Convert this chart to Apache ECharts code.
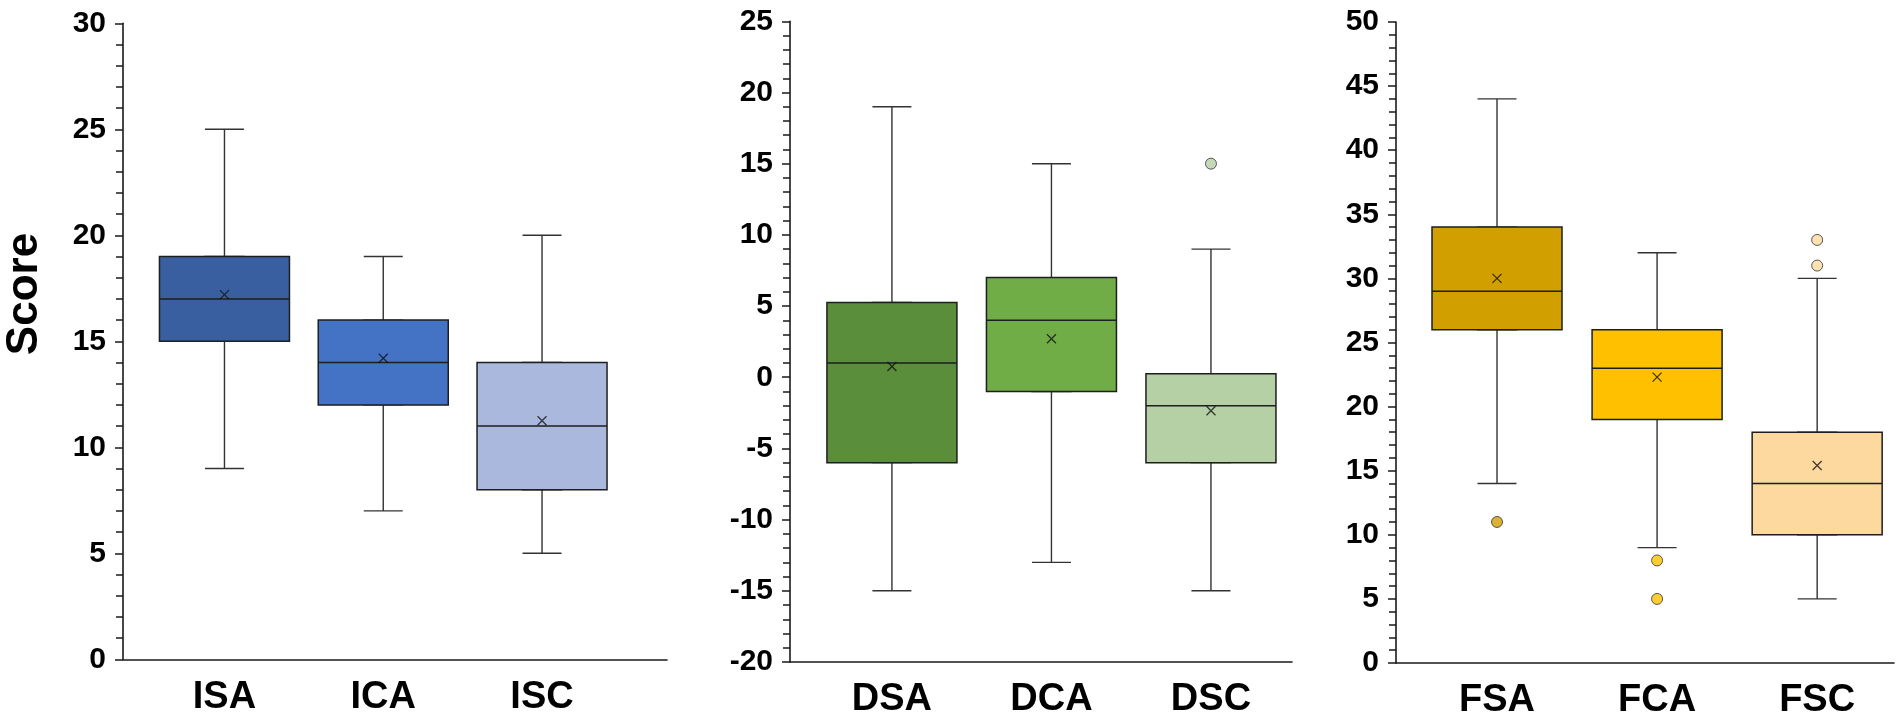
<!DOCTYPE html>
<html lang="en">
<head>
    <meta charset="UTF-8">
    <title>Score boxplots</title>
    <script src="https://cdn.jsdelivr.net/npm/echarts@6/dist/echarts.min.js"></script>
    <style>
        html,body{ margin:0; padding:0; background:#fff; }
        #main{ width:1902px; height:721px; }
    </style>
</head>
<body>
<div id="main"></div>
<script>
    // group names per panel
    var namesI = ['ISA', 'ICA', 'ISC'];
    var namesD = ['DSA', 'DCA', 'DSC'];
    var namesF = ['FSA', 'FCA', 'FSC'];

    // [min, Q1, median, Q3, max]
    var statsI = [[9, 15, 17, 19, 25], [7, 12, 14, 16, 19], [5, 8, 11, 14, 20]];
    var statsD = [[-15, -6, 1, 5.25, 19], [-13, -1, 4, 7, 15], [-15, -6, -2, 0.25, 9]];
    var statsF = [[14, 26, 29, 34, 44], [9, 19, 23, 26, 32], [5, 10, 14, 18, 30]];

    // means (the x marks)
    var meansI = [17.2, 14.2, 11.25];
    var meansD = [0.75, 2.7, -2.35];
    var meansF = [30, 22.3, 15.4];

    // outliers: [group index, value]
    var outliersI = [];
    var outliersD = [[2, 15]];
    var outliersF = [[0, 11], [1, 8], [1, 5], [2, 31], [2, 33]];

    // y axis ranges
    var yRangeI = [0, 30];
    var yRangeD = [-20, 25];
    var yRangeF = [0, 50];

    var colorsI = ['#3A5FA1', '#4472C4', '#A9B8DC'];
    var colorsD = ['#5B8E3B', '#70AD47', '#B5D0A5'];
    var colorsF = ['#D29F00', '#FFC000', '#FDD9A0'];

    var FONT = 'Liberation Sans';

    var panels = [
        {names: namesI, stats: statsI, means: meansI, outliers: outliersI, yRange: yRangeI, colors: colorsI,
            grid: {left: 123, top: 23.3, width: 544, height: 636}, xRange: [-0.639, 2.787]},
        {names: namesD, stats: statsD, means: meansD, outliers: outliersD, yRange: yRangeD, colors: colorsD,
            grid: {left: 790, top: 21.3, width: 502, height: 640.7}, xRange: [-0.639, 2.508]},
        {names: namesF, stats: statsF, means: meansF, outliers: outliersF, yRange: yRangeF, colors: colorsF,
            grid: {left: 1396, top: 22, width: 498, height: 641}, xRange: [-0.631, 2.48]}
    ];

    var grids = [], xAxes = [], yAxes = [], series = [];

    panels.forEach(function (p, k) {
        grids.push(p.grid);
        // visible x axis with the group labels
        xAxes.push({
            type: 'value', gridIndex: k, min: p.xRange[0], max: p.xRange[1],
            axisLine: {show: true, onZero: false, lineStyle: {color: '#1a1a1a', width: 1.6}},
            axisTick: {show: false},
            splitLine: {show: false},
            axisLabel: {
                customValues: [0, 1, 2], margin: 19,
                formatter: (function (names) { return function (v) { return names[Math.round(v)] || ''; }; })(p.names),
                fontSize: 38, fontWeight: 'bold', color: '#000', fontFamily: FONT
            }
        });
        // hidden x axis for the narrow whisker layer
        xAxes.push({
            type: 'value', gridIndex: k, min: p.xRange[0], max: p.xRange[1], show: false,
            axisLine: {onZero: false}
        });
        yAxes.push({
            type: 'value', gridIndex: k, min: p.yRange[0], max: p.yRange[1], interval: 5,
            axisLine: {show: true, onZero: false, lineStyle: {color: '#1a1a1a', width: 1.6}},
            axisTick: {show: true, length: 8, lineStyle: {color: '#1a1a1a', width: 1.5}},
            minorTick: {show: true, splitNumber: 5, length: 7, lineStyle: {color: '#1a1a1a', width: 1.5}},
            splitLine: {show: false},
            axisLabel: {margin: 17, fontSize: 30, fontWeight: 'bold', color: '#000', fontFamily: FONT}
        });

        // whiskers with short caps
        series.push({
            type: 'boxplot', xAxisIndex: 2 * k + 1, yAxisIndex: k, z: 2, silent: true,
            boxWidth: [39, 39],
            itemStyle: {color: '#fff', borderColor: '#333', borderWidth: 1.4},
            emphasis: {disabled: true},
            data: p.stats.map(function (s, i) { return [i].concat(s); })
        });
        // boxes with median line
        series.push({
            type: 'boxplot', xAxisIndex: 2 * k, yAxisIndex: k, z: 3, silent: true,
            boxWidth: [130, 130],
            itemStyle: {borderColor: '#1e1e1e', borderWidth: 1.5},
            emphasis: {disabled: true},
            data: p.stats.map(function (s, i) {
                return {value: [i, s[1], s[1], s[2], s[3], s[3]], itemStyle: {color: p.colors[i], borderColor: '#1e1e1e', borderWidth: 1.5}};
            })
        });
        // means
        series.push({
            type: 'scatter', xAxisIndex: 2 * k, yAxisIndex: k, z: 5, silent: true,
            symbol: 'path://M0,0L10,10M10,0L0,10', symbolSize: 9,
            itemStyle: {color: 'none', borderColor: '#111', borderWidth: 1.3},
            data: p.means.map(function (m, i) { return [i, m]; })
        });
        // outliers
        series.push({
            type: 'scatter', xAxisIndex: 2 * k, yAxisIndex: k, z: 5, silent: true,
            symbol: 'circle', symbolSize: 11,
            data: p.outliers.map(function (o) {
                return {value: [o[0], o[1]], itemStyle: {color: p.colors[o[0]], borderColor: '#333', borderWidth: 1}};
            })
        });
    });

    var chart = echarts.init(document.getElementById('main'), null, {renderer: 'canvas'});
    chart.setOption({
        backgroundColor: '#fff',
        animation: false,
        grid: grids,
        xAxis: xAxes,
        yAxis: yAxes,
        series: series,
        graphic: [{
            type: 'text', x: 25, y: 294, rotation: Math.PI / 2,
            style: {text: 'Score', font: 'bold 44px "Liberation Sans"', fill: '#000', align: 'center', verticalAlign: 'middle'}
        }]
    });
</script>
</body>
</html>
